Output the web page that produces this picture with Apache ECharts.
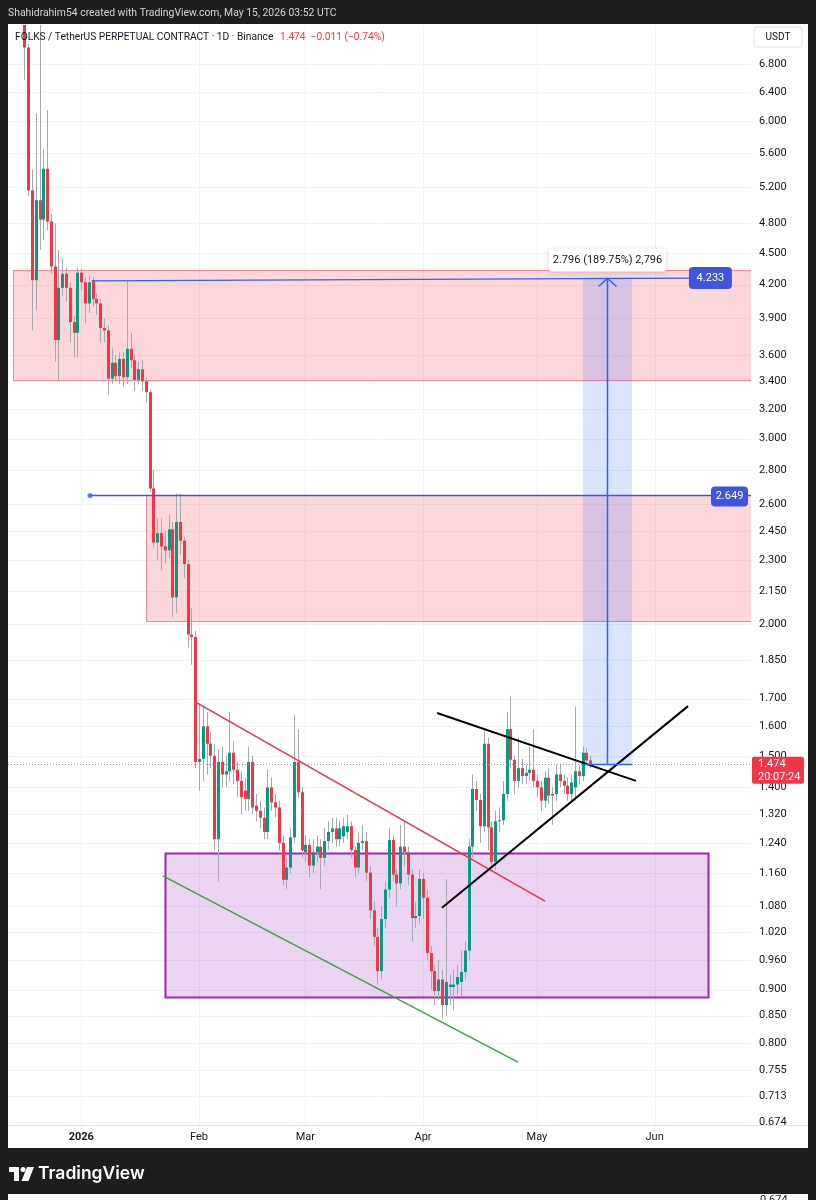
<!DOCTYPE html>
<html><head><meta charset="utf-8">
<script src="https://cdn.jsdelivr.net/npm/echarts@6/dist/echarts.min.js"></script>
<style>html,body{margin:0;padding:0;background:#1e1e1e;}#c{width:816px;height:1200px;}</style>
</head><body><div id="c"></div>
<script>
// ---------- DATA ----------
const startDate = '2025-12-17'; // first daily candle
const opens  = [7.50,7.05,5.16,4.24,5.05,4.84,5.41,4.82,4.37,3.72,4.17,4.30,4.17,3.87,3.78,4.31,4.22,4.03,4.24,4.07,4.03,3.82,3.80,3.42,3.54,3.44,3.57,3.43,3.65,3.56,3.41,3.49,3.40,3.32,2.69,2.39,2.44,2.37,2.35,2.46,2.12,2.50,2.40,2.28,1.955,1.945,1.48,1.49,1.60,1.54,1.50,1.25,1.48,1.44,1.45,1.51,1.455,1.42,1.39,1.365,1.48,1.345,1.33,1.31,1.27,1.40,1.355,1.34,1.24,1.144,1.175,1.255,1.48,1.385,1.215,1.235,1.18,1.215,1.23,1.20,1.245,1.27,1.28,1.25,1.258,1.27,1.286,1.221,1.175,1.24,1.245,1.162,1.07,1.01,0.937,1.05,1.12,1.248,1.157,1.135,1.23,1.215,1.157,1.052,1.057,1.146,1.10,0.975,0.937,0.897,0.92,0.87,0.905,0.905,0.91,0.915,0.935,0.98,1.23,1.395,1.362,1.286,1.54,1.283,1.19,1.30,1.303,1.38,1.59,1.487,1.42,1.46,1.435,1.445,1.455,1.42,1.40,1.36,1.43,1.375,1.38,1.44,1.42,1.405,1.38,1.40,1.45,1.435,1.51,1.485];
const closes = [7.05,5.16,4.24,5.05,4.84,5.41,4.82,4.37,3.72,4.17,4.30,4.17,3.87,3.78,4.31,4.22,4.03,4.22,4.07,4.03,3.82,3.80,3.42,3.54,3.44,3.57,3.43,3.65,3.56,3.41,3.49,3.40,3.32,2.69,2.39,2.44,2.37,2.35,2.46,2.12,2.50,2.40,2.28,1.955,1.945,1.48,1.49,1.60,1.54,1.50,1.25,1.48,1.44,1.45,1.51,1.455,1.42,1.37,1.365,1.48,1.34,1.33,1.31,1.27,1.40,1.355,1.34,1.24,1.144,1.175,1.255,1.48,1.385,1.22,1.235,1.18,1.215,1.23,1.20,1.245,1.27,1.28,1.25,1.28,1.286,1.286,1.221,1.175,1.24,1.245,1.162,1.07,1.01,0.937,1.05,1.12,1.248,1.157,1.135,1.23,1.215,1.157,1.052,1.057,1.146,1.10,0.975,0.937,0.897,0.92,0.87,0.915,0.91,0.91,0.925,0.935,0.98,1.23,1.395,1.362,1.286,1.54,1.283,1.19,1.30,1.303,1.38,1.59,1.487,1.42,1.46,1.435,1.445,1.455,1.42,1.40,1.36,1.43,1.375,1.38,1.44,1.42,1.405,1.38,1.415,1.45,1.435,1.51,1.485,1.474];
const lows   = [6.57,5.10,3.80,3.97,4.53,4.63,4.73,4.30,3.55,3.41,4.10,4.05,3.70,3.58,3.58,4.15,3.86,3.95,4.00,3.93,3.70,3.70,3.30,3.38,3.40,3.38,3.36,3.38,3.50,3.33,3.38,3.33,3.25,2.67,2.36,2.30,2.25,2.28,2.31,2.03,2.05,2.33,2.21,1.90,1.83,1.46,1.39,1.42,1.44,1.46,1.22,1.14,1.40,1.40,1.42,1.41,1.37,1.32,1.33,1.33,1.32,1.30,1.28,1.25,1.25,1.33,1.31,1.22,1.13,1.12,1.16,1.24,1.37,1.20,1.19,1.15,1.16,1.19,1.12,1.18,1.22,1.24,1.23,1.23,1.24,1.25,1.20,1.15,1.16,1.22,1.14,1.05,0.99,0.91,0.92,1.03,1.10,1.14,1.08,1.12,1.18,1.13,1.00,1.03,1.04,1.05,0.96,0.90,0.87,0.88,0.845,0.85,0.87,0.86,0.89,0.885,0.92,0.96,1.20,1.33,1.24,1.27,1.22,1.17,1.17,1.27,1.29,1.36,1.46,1.38,1.40,1.41,1.41,1.42,1.40,1.37,1.33,1.34,1.35,1.29,1.36,1.40,1.38,1.36,1.36,1.36,1.41,1.42,1.47,1.46];
const highs  = [7.60,7.10,5.40,6.10,7.50,5.64,6.15,4.90,4.80,4.53,4.45,4.36,4.22,3.92,4.36,4.35,4.26,4.28,4.27,4.12,4.07,3.90,3.84,3.66,3.60,3.62,3.62,4.24,3.78,3.60,3.55,3.56,3.43,3.34,2.80,2.52,2.52,2.45,2.54,2.50,2.66,2.66,2.42,2.30,2.07,1.97,1.68,1.67,1.65,1.58,1.54,1.52,1.53,1.50,1.65,1.55,1.48,1.45,1.43,1.53,1.50,1.38,1.36,1.34,1.455,1.43,1.38,1.36,1.26,1.20,1.28,1.64,1.59,1.40,1.26,1.25,1.25,1.26,1.25,1.28,1.30,1.31,1.31,1.30,1.31,1.32,1.30,1.23,1.27,1.29,1.27,1.18,1.09,1.03,1.08,1.14,1.28,1.26,1.17,1.29,1.30,1.23,1.17,1.09,1.17,1.16,1.12,0.99,0.95,0.96,0.94,1.145,0.93,0.94,0.95,0.98,1.00,1.25,1.44,1.42,1.38,1.59,1.56,1.30,1.33,1.34,1.42,1.65,1.71,1.50,1.56,1.49,1.47,1.53,1.59,1.44,1.42,1.45,1.46,1.40,1.47,1.47,1.44,1.43,1.44,1.67,1.47,1.53,1.525,1.50];

const priceTicks = [6.8,6.4,6.0,5.6,5.2,4.8,4.5,4.2,3.9,3.6,3.4,3.2,3.0,2.8,2.6,2.45,2.3,2.15,2.0,1.85,1.7,1.6,1.5,1.4,1.32,1.24,1.16,1.08,1.02,0.96,0.9,0.85,0.8,0.755,0.713,0.674];
const priceTickLabels = ['6.800','6.400','6.000','5.600','5.200','4.800','4.500','4.200','3.900','3.600','3.400','3.200','3.000','2.800','2.600','2.450','2.300','2.150','2.000','1.850','1.700','1.600','1.500','1.400','1.320','1.240','1.160','1.080','1.020','0.960','0.900','0.850','0.800','0.755','0.713','0.674'];
const monthDates = ['2026-01-01T00:00','2026-02-01T00:00','2026-03-01T00:00','2026-04-01T00:00','2026-05-01T00:00','2026-06-01T00:00'];
const monthLabels = ['2026','Feb','Mar','Apr','May','Jun'];

// zones (drawn rectangles)
const zoneStart = ['2025-12-14T00:00','2026-01-18T00:00','2026-01-23T00:00'];
const zoneEnd   = [null, null, '2026-06-15T00:00'];
const zoneHigh  = [4.336, 2.649, 1.213];
const zoneLow   = [3.41, 2.01, 0.885];
const zoneKind  = ['supply','supply','demand'];

// trend / level lines
const redTrend   = [['2026-01-31T11:00',1.684],['2026-05-03T03:00',1.092]];
const greenTrend = [['2026-01-22T12:00',1.154],['2026-04-26T00:00',0.768]];
const blackUpper = [['2026-04-04T17:00',1.647],['2026-05-27T02:00',1.42]];
const blackLower = [['2026-04-06T00:00',1.076],['2026-06-09T19:00',1.672]];
const blueTop    = [['2026-01-03T19:00',4.233],['2026-06-10T07:00',4.26]];
const blueMidStart = ['2026-01-03T07:00', 2.649];
const lastPrice = 1.474;
const measureFrom = '2026-05-13T02:00', measureTo = '2026-05-26T00:00', measureArrow = '2026-05-19T12:00';
const measureLow = 1.474, measureHigh = 4.265;

// ---------- CHART ----------
const DAY = 86400000;
const T = s => Date.parse(s + ':00Z');
const t0 = Date.parse(startDate + 'T00:00:00Z');
const candleData = opens.map((o,i)=>[t0 + i*DAY, o, closes[i], lows[i], highs[i]]);
const xMin = Date.UTC(2025,11,12,16,50), xMax = Date.UTC(2026,5,26,9,0);
const yMin = 0.6695, yMax = 7.405;
const FONT = 'Roboto, "Noto Sans", sans-serif';
const BLUE = '#2962ff';

function lineSeries(pts, color, width, z){
  return {type:'line', z:z||6, silent:true, symbol:'none', animation:false,
    data: pts.map(p=>[T(p[0]), p[1]]), lineStyle:{color, width}, clip:true};
}

const chart = echarts.init(document.getElementById('c'), null, {width:816, height:1200});
const option = {
  backgroundColor:'#1e1e1e',
  animation:false,
  useUTC:true,
  grid:{left:8, top:25, width:743, height:1100},
  xAxis:{type:'time', min:xMin, max:xMax, show:false},
  yAxis:{type:'log', min:yMin, max:yMax, show:false},
  graphic:[
    {type:'rect', z:0, shape:{x:8,y:24,width:800,height:1124}, style:{fill:'#ffffff'}},
    {type:'text', z:100, x:8, y:13, style:{text:'Shahidrahim54 created with TradingView.com, May 15, 2026 03:52 UTC', fill:'#d1d4dc', font:'10.4px '+FONT, verticalAlign:'middle'}},
    {type:'text', z:100, x:15, y:37, style:{text:'{a|FOLKS / TetherUS PERPETUAL CONTRACT · 1D · Binance}  {b|1.474  −0.011 (−0.74%)}',
      rich:{a:{fill:'#131722', font:'10.2px '+FONT}, b:{fill:'#f23645', font:'10.2px '+FONT}}, verticalAlign:'middle'}},
    {type:'rect', z:100, shape:{x:754,y:27,width:48,height:20,r:3}, style:{fill:'#ffffff', stroke:'#e0e3eb', lineWidth:1}},
    {type:'text', z:101, x:778, y:37, style:{text:'USDT', fill:'#131722', font:'10px '+FONT, align:'center', verticalAlign:'middle'}},
    // time axis band
    {type:'rect', z:50, shape:{x:8,y:1125,width:800,height:23}, style:{fill:'#ffffff'}},
    {type:'line', z:51, shape:{x1:8,y1:1125.5,x2:808,y2:1125.5}, style:{stroke:'#e0e3eb', lineWidth:1}},
    // footer logo
    {type:'polygon', z:100, shape:{points:[[9,1167],[19,1167],[19,1181],[14,1181],[14,1172],[9,1172]]}, style:{fill:'#ffffff'}},
    {type:'circle', z:100, shape:{cx:23,cy:1169.5,r:2.5}, style:{fill:'#ffffff'}},
    {type:'polygon', z:100, shape:{points:[[27,1167],[34,1167],[28.5,1181],[21.5,1181]]}, style:{fill:'#ffffff'}},
    {type:'text', z:100, x:38, y:1174, style:{text:'TradingView', fill:'#ffffff', font:'600 17.5px Inter, '+FONT, verticalAlign:'middle'}},
    {type:'rect', z:100, shape:{x:8,y:1194,width:800,height:6}, style:{fill:'#ffffff'}},
    {type:'text', z:101, x:760, y:1195, style:{text:'0.674', fill:'#131722', font:'11px '+FONT, verticalAlign:'top'}}
  ],
  series:[
    // horizontal grid lines
    {type:'custom', z:1, silent:true, data: priceTicks.map(v=>[xMin, v]),
      renderItem:(p,api)=>{const cs=p.coordSys; const y=Math.round(api.coord([xMin, api.value(1)])[1])+0.5;
        return {type:'line', shape:{x1:cs.x,y1:y,x2:cs.x+cs.width,y2:y}, style:{stroke:'#f0f3fa', lineWidth:1}};}},
    // vertical grid lines
    {type:'custom', z:1, silent:true, data: monthDates.map(d=>[T(d), 1]),
      renderItem:(p,api)=>{const cs=p.coordSys; const x=Math.round(api.coord([api.value(0),1])[0])+0.5;
        return {type:'line', shape:{x1:x,y1:cs.y,x2:x,y2:cs.y+cs.height}, style:{stroke:'#f0f3fa', lineWidth:1}};}},
    // zones
    {type:'custom', z:2, silent:true, clip:true, data: zoneStart.map((s,i)=>[T(s), zoneHigh[i], i]),
      renderItem:(p,api)=>{const i=api.value(2); const cs=p.coordSys;
        const a=api.coord([T(zoneStart[i]), zoneHigh[i]]);
        const bx = zoneEnd[i] ? api.coord([T(zoneEnd[i]), zoneLow[i]])[0] : cs.x+cs.width;
        const by = api.coord([T(zoneStart[i]), zoneLow[i]])[1];
        const demand = zoneKind[i]==='demand';
        return {type:'rect', shape:{x:Math.round(a[0])+0.5, y:Math.round(a[1])+0.5, width:Math.round(bx-a[0]), height:Math.round(by-a[1])},
          style:{fill: demand?'rgba(156,39,176,0.2)':'rgba(242,54,69,0.2)', stroke: demand?'#9c27b0':'rgba(242,54,69,0.55)', lineWidth: demand?2:1}};}},
    // measurement shaded rect
    {type:'custom', z:3, silent:true, clip:true, data:[[T(measureFrom), measureHigh]],
      renderItem:(p,api)=>{const a=api.coord([T(measureFrom), measureHigh]); const b=api.coord([T(measureTo), measureLow]);
        return {type:'rect', shape:{x:a[0],y:a[1],width:b[0]-a[0],height:b[1]-a[1]}, style:{fill:'rgba(41,98,255,0.17)'}};}},
    // candles
    {type:'custom', name:'FOLKS', z:5, silent:true, clip:true, data:candleData, encode:{x:0, y:[1,2,3,4]},
      renderItem:(p,api)=>{
        const t=api.value(0), o=api.value(1), c=api.value(2), l=api.value(3), h=api.value(4);
        const x=Math.round(api.coord([t,c])[0]);
        const yo=api.coord([t,o])[1], yc=api.coord([t,c])[1], yl=api.coord([t,l])[1], yh=api.coord([t,h])[1];
        const col = c>=o ? '#089981' : '#f23645';
        const top=Math.min(yo,yc), bh=Math.max(1, Math.abs(yo-yc));
        return {type:'group', children:[
          {type:'line', shape:{x1:x+0.5,y1:yh,x2:x+0.5,y2:yl}, style:{stroke:'#a7a9b0', lineWidth:1}},
          {type:'rect', shape:{x:x-1,y:top,width:3,height:bh}, style:{fill:col}}
        ]};}},
    lineSeries(redTrend, '#e8344a', 1.6),
    lineSeries(greenTrend, '#43a047', 1.5),
    lineSeries(blackUpper, '#000000', 2),
    lineSeries(blackLower, '#000000', 2),
    lineSeries(blueTop, BLUE, 1.2),
    {type:'line', z:6, silent:true, clip:true, symbol:'none', data:[[T(blueMidStart[0]), blueMidStart[1]],[xMax, blueMidStart[1]]], lineStyle:{color:'#3f55e0', width:1.5}},
    {type:'scatter', z:7, silent:true, symbol:'circle', symbolSize:5, data:[[T(blueMidStart[0]), blueMidStart[1]]], itemStyle:{color:BLUE}},
    // measurement arrow + lines + label
    {type:'custom', z:8, silent:true, data:[[T(measureArrow), measureHigh]],
      renderItem:(p,api)=>{
        const top=api.coord([T(measureArrow), measureHigh]); const bot=api.coord([T(measureArrow), measureLow]);
        const l=api.coord([T(measureFrom), measureLow]); const r=api.coord([T(measureTo), measureLow]);
        const x=Math.round(top[0])+0.5;
        return {type:'group', children:[
          {type:'line', shape:{x1:x,y1:bot[1],x2:x,y2:top[1]+1}, style:{stroke:BLUE, lineWidth:1.5}},
          {type:'polyline', shape:{points:[[x-9,top[1]+9],[x,top[1]+1],[x+9,top[1]+9]]}, style:{stroke:BLUE, lineWidth:1.5, fill:null}},
          {type:'line', shape:{x1:l[0],y1:Math.round(l[1])+0.5,x2:r[0],y2:Math.round(l[1])+0.5}, style:{stroke:BLUE, lineWidth:1.5}},
          {type:'rect', shape:{x:x-58.5,y:top[1]-29,width:117,height:23,r:3}, style:{fill:'#ffffff', shadowBlur:5, shadowColor:'rgba(0,0,0,0.18)', shadowOffsetY:1}},
          {type:'text', x:x, y:top[1]-17.5, style:{text:'2.796 (189.75%) 2,796', fill:'#131722', font:'11px '+FONT, align:'center', verticalAlign:'middle'}}
        ]};}},
    // current price dotted line
    {type:'custom', z:7, silent:true, data:[[xMax, lastPrice]],
      renderItem:(p,api)=>{const cs=p.coordSys; const y=Math.round(api.coord([xMax,lastPrice])[1])+0.5;
        return {type:'line', shape:{x1:cs.x,y1:y,x2:cs.x+cs.width,y2:y}, style:{stroke:'#9598a1', lineWidth:1, lineDash:[1,2]}};}},
    // blue level labels
    {type:'custom', z:20, silent:true, data:[[T(blueTop[1][0]), blueTop[1][1]]],
      renderItem:(p,api)=>{const e=api.coord([T(blueTop[1][0]), blueTop[1][1]]);
        return {type:'group', children:[
          {type:'rect', shape:{x:e[0]-1,y:e[1]-11,width:43,height:22,r:4}, style:{fill:'#3f55e0'}},
          {type:'text', x:e[0]+20.5, y:e[1], style:{text:'4.233', fill:'#ffffff', font:'11px '+FONT, align:'center', verticalAlign:'middle'}}]};}},
    {type:'custom', z:20, silent:true, data:[[xMax, blueMidStart[1]]],
      renderItem:(p,api)=>{const cs=p.coordSys; const y=api.coord([xMax, blueMidStart[1]])[1]; const xr=cs.x+cs.width-3;
        return {type:'group', children:[
          {type:'rect', shape:{x:xr-37,y:y-9,width:37,height:20,r:4}, style:{fill:'#3f55e0'}},
          {type:'text', x:xr-18.5, y:y+1, style:{text:'2.649', fill:'#ffffff', font:'11px '+FONT, align:'center', verticalAlign:'middle'}}]};}},
    // price axis labels
    {type:'custom', z:10, silent:true, data: priceTicks.map((v,i)=>[xMax, v, i]),
      renderItem:(p,api)=>{const cs=p.coordSys; const y=api.coord([xMax, api.value(1)])[1];
        return {type:'text', x:cs.x+cs.width+8, y:y, style:{text:priceTickLabels[api.value(2)], fill:'#131722', font:'11px '+FONT, verticalAlign:'middle'}};}},
    // last price label
    {type:'custom', z:70, silent:true, data:[[xMax, lastPrice]],
      renderItem:(p,api)=>{const cs=p.coordSys; const y=api.coord([xMax,lastPrice])[1]; const x=cs.x+cs.width+1;
        return {type:'group', children:[
          {type:'rect', shape:{x:x,y:y-7,width:52,height:27,r:2}, style:{fill:'#f23645'}},
          {type:'text', x:x+6, y:y, style:{text:'1.474', fill:'#ffffff', font:'11px '+FONT, verticalAlign:'middle'}},
          {type:'text', x:x+6, y:y+13, style:{text:'20:07:24', fill:'#ffffff', font:'11px '+FONT, verticalAlign:'middle'}}]};}},
    // time axis labels
    {type:'custom', z:60, silent:true, data: monthDates.map((d,i)=>[T(d), 1, i]),
      renderItem:(p,api)=>{const cs=p.coordSys; const x=api.coord([api.value(0),1])[0]; const i=api.value(2);
        return {type:'text', x:x, y:cs.y+cs.height+12, style:{text:monthLabels[i], fill:'#131722', font:(i===0?'bold ':'')+'11px '+FONT, align:'center', verticalAlign:'middle'}};}}
  ]
};
chart.setOption(option);
</script></body></html>
